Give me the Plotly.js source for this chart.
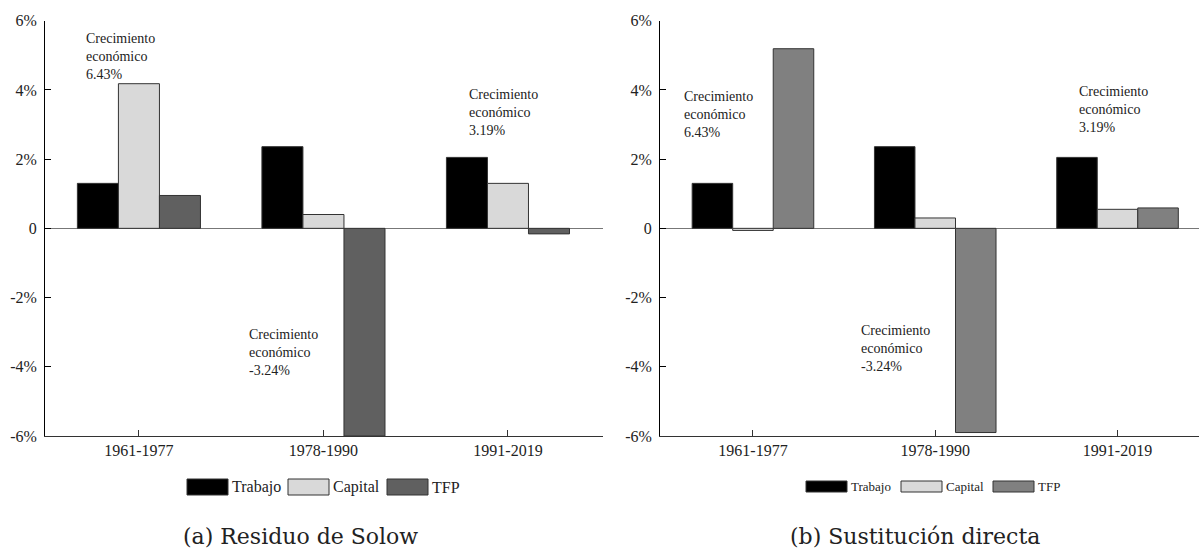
<!DOCTYPE html>
<html>
<head>
<meta charset="utf-8">
<script src="https://cdn.plot.ly/plotly-3.0.1.min.js"></script>
<style>html,body{margin:0;padding:0;background:#fff;}#chart{width:1199px;height:549px;}</style>
</head>
<body>
<div id="chart"></div>
<script>
// ---- data ----
const categories = ['1961-1977', '1978-1990', '1991-2019'];
const seriesNames = ['Trabajo', 'Capital', 'TFP'];
const solowTrabajo = [1.30, 2.36, 2.05];
const solowCapital = [4.18, 0.40, 1.30];
const solowTFP = [0.95, -6.00, -0.16];
const directTrabajo = [1.30, 2.36, 2.05];
const directCapital = [-0.06, 0.30, 0.55];
const directTFP = [5.19, -5.90, 0.59];
const growthLabels = ['6.43%', '-3.24%', '3.19%'];
const yTickVals = [-6, -4, -2, 0, 2, 4, 6];
const yTickText = ['-6%', '-4%', '-2%', '0', '2%', '4%', '6%'];
const captions = ['(a) Residuo de Solow', '(b) Sustitución directa'];

// ---- style ----
const W = 1199, H = 549;
const SERIF = '"Liberation Serif", "Times New Roman", Times, serif';
const CAPFONT = '"DejaVu Serif", serif';
const colorsA = ['#000000', '#d9d9d9', '#606060'];
const colorsB = ['#000000', '#d9d9d9', '#808080'];
const px = x => x / W;
const py = y => 1 - y / H;

function bar(name, y, color, xa, ya) {
  return {
    type: 'bar', name: name, x: categories, y: y, xaxis: xa, yaxis: ya,
    marker: {color: color, line: {color: '#333', width: 1}},
    showlegend: false, hoverinfo: 'x+y'
  };
}

const data = [
  bar(seriesNames[0], solowTrabajo, colorsA[0], 'x', 'y'),
  bar(seriesNames[1], solowCapital, colorsA[1], 'x', 'y'),
  bar(seriesNames[2], solowTFP, colorsA[2], 'x', 'y'),
  bar(seriesNames[0], directTrabajo, colorsB[0], 'x2', 'y2'),
  bar(seriesNames[1], directCapital, colorsB[1], 'x2', 'y2'),
  bar(seriesNames[2], directTFP, colorsB[2], 'x2', 'y2')
];

const yDomain = [py(436), py(20.7)];
function yax(anchor) {
  return {
    domain: yDomain, anchor: anchor, range: [-6, 6],
    tickvals: yTickVals, ticktext: yTickText,
    tickfont: {family: SERIF, size: 16, color: '#222'},
    showline: true, linecolor: '#000', linewidth: 1,
    ticks: 'inside', ticklen: 6, tickcolor: '#000',
    showgrid: false, zeroline: true, zerolinecolor: '#777', zerolinewidth: 1,
    ticklabelstandoff: 4, fixedrange: true
  };
}
function xax(domain, range, anchor) {
  return {
    domain: domain, anchor: anchor, range: range, type: 'category',
    tickfont: {family: SERIF, size: 16, color: '#222'},
    showline: true, linecolor: '#333', linewidth: 1,
    ticks: 'inside', ticklen: 6, tickcolor: '#333',
    showgrid: false, zeroline: false, fixedrange: true
  };
}

const annFont = {family: SERIF, size: 14, color: '#222'};
function growthAnn(i, x, y, xr, yr) {
  return {
    text: 'Crecimiento<br>económico<br>' + growthLabels[i],
    x: x, y: y, xref: xr, yref: yr, xanchor: 'left', yanchor: 'top',
    align: 'left', showarrow: false, font: annFont
  };
}

const annotations = [
  growthAnn(0, -0.30, 5.76, 'x', 'y'),
  growthAnn(1, 0.585, -2.79, 'x', 'y'),
  growthAnn(2, 1.78, 4.14, 'x', 'y'),
  growthAnn(0, -0.39, 4.08, 'x2', 'y2'),
  growthAnn(1, 0.58, -2.68, 'x2', 'y2'),
  growthAnn(2, 1.78, 4.22, 'x2', 'y2'),
  {text: captions[0], x: px(300), y: py(536), xref: 'paper', yref: 'paper',
   xanchor: 'center', yanchor: 'middle', showarrow: false,
   font: {family: CAPFONT, size: 22, color: '#222'}},
  {text: captions[1], x: px(915), y: py(536), xref: 'paper', yref: 'paper',
   xanchor: 'center', yanchor: 'middle', showarrow: false,
   font: {family: CAPFONT, size: 22, color: '#222'}}
];

const shapes = [];
const legA = {boxes: [187, 288, 387], w: 41, y0: 479, y1: 495, size: 16};
const legB = {boxes: [806, 901, 993], w: 41, y0: 481, y1: 492, size: 13};
function addLegend(leg, colors) {
  leg.boxes.forEach((bx, i) => {
    shapes.push({type: 'rect', xref: 'paper', yref: 'paper',
      x0: px(bx), x1: px(bx + leg.w), y0: py(leg.y1), y1: py(leg.y0),
      fillcolor: colors[i], line: {color: '#333', width: 1}});
    annotations.push({text: seriesNames[i], xref: 'paper', yref: 'paper',
      x: px(bx + leg.w + 2), y: py((leg.y0 + leg.y1) / 2),
      xanchor: 'left', yanchor: 'middle', showarrow: false,
      font: {family: SERIF, size: leg.size, color: '#222'}});
  });
}
addLegend(legA, colorsA);
addLegend(legB, colorsB);

const layout = {
  width: W, height: H,
  margin: {l: 0, r: 0, t: 0, b: 0, pad: 0},
  paper_bgcolor: '#fff', plot_bgcolor: '#fff',
  font: {family: SERIF},
  barmode: 'group', bargap: 0.333, bargroupgap: 0,
  showlegend: false,
  xaxis: xax([px(45), px(603)], [-0.509, 2.515], 'y'),
  yaxis: yax('x'),
  xaxis2: xax([px(660), 1], [-0.510, 2.447], 'y2'),
  yaxis2: yax('x2'),
  annotations: annotations,
  shapes: shapes
};

Plotly.newPlot('chart', data, layout, {displayModeBar: false, staticPlot: true});
</script>
</body>
</html>
